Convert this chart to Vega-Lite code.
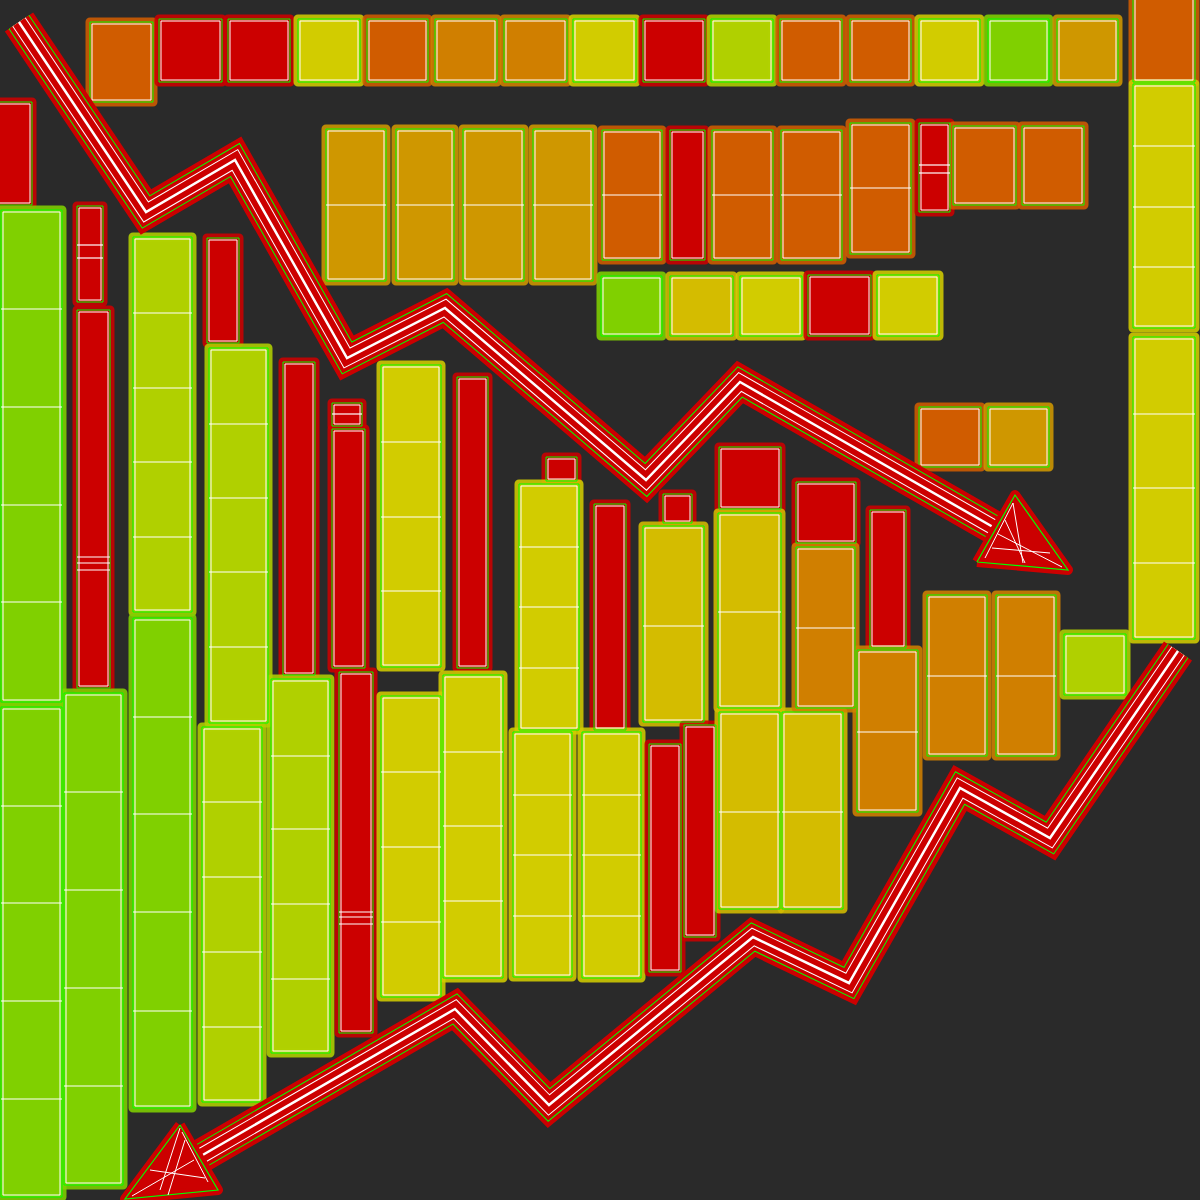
{
  "$schema": "https://vega.github.io/schema/vega-lite/v6.json",
  "width": 1200,
  "height": 1200,
  "padding": 0,
  "autosize": {"type": "none"},
  "background": "#2a2a2a",
  "config": {"view": {"stroke": null}},
  "datasets": {
    "blocks": [
      {"x1": 90, "x2": 153, "y1": 22, "y2": 102, "t": "orange"},
      {"x1": 159, "x2": 222, "y1": 19, "y2": 82, "t": "red"},
      {"x1": 228, "x2": 290, "y1": 19, "y2": 82, "t": "red"},
      {"x1": 298, "x2": 360, "y1": 19, "y2": 82, "t": "yellow"},
      {"x1": 367, "x2": 428, "y1": 19, "y2": 82, "t": "orange"},
      {"x1": 435, "x2": 497, "y1": 19, "y2": 82, "t": "amber"},
      {"x1": 504, "x2": 567, "y1": 19, "y2": 82, "t": "amber"},
      {"x1": 573, "x2": 636, "y1": 19, "y2": 82, "t": "yellow"},
      {"x1": 643, "x2": 705, "y1": 19, "y2": 82, "t": "red"},
      {"x1": 711, "x2": 773, "y1": 19, "y2": 82, "t": "ygreen"},
      {"x1": 780, "x2": 842, "y1": 19, "y2": 82, "t": "orange"},
      {"x1": 850, "x2": 911, "y1": 19, "y2": 82, "t": "orange"},
      {"x1": 919, "x2": 980, "y1": 19, "y2": 82, "t": "yellow"},
      {"x1": 988, "x2": 1049, "y1": 19, "y2": 82, "t": "green"},
      {"x1": 1057, "x2": 1118, "y1": 19, "y2": 82, "t": "gold"},
      {"x1": 1133, "x2": 1195, "y1": -6, "y2": 82, "t": "orange"},
      {"x1": 1133, "x2": 1195, "y1": 84, "y2": 328, "t": "yellow"},
      {"x1": 1133, "x2": 1195, "y1": 337, "y2": 639, "t": "yellow"},
      {"x1": 326, "x2": 386, "y1": 129, "y2": 281, "t": "gold"},
      {"x1": 396, "x2": 454, "y1": 129, "y2": 281, "t": "gold"},
      {"x1": 463, "x2": 524, "y1": 129, "y2": 281, "t": "gold"},
      {"x1": 533, "x2": 593, "y1": 129, "y2": 281, "t": "gold"},
      {"x1": 602, "x2": 662, "y1": 130, "y2": 260, "t": "orange"},
      {"x1": 670, "x2": 705, "y1": 130, "y2": 260, "t": "red"},
      {"x1": 712, "x2": 773, "y1": 130, "y2": 260, "t": "orange"},
      {"x1": 781, "x2": 842, "y1": 130, "y2": 260, "t": "orange"},
      {"x1": 850, "x2": 911, "y1": 123, "y2": 254, "t": "orange"},
      {"x1": 919, "x2": 950, "y1": 123, "y2": 212, "t": "red"},
      {"x1": 953, "x2": 1016, "y1": 126, "y2": 205, "t": "orange"},
      {"x1": 1022, "x2": 1084, "y1": 126, "y2": 205, "t": "orange"},
      {"x1": 601, "x2": 662, "y1": 276, "y2": 336, "t": "green"},
      {"x1": 670, "x2": 733, "y1": 276, "y2": 336, "t": "goldyellow"},
      {"x1": 740, "x2": 802, "y1": 276, "y2": 336, "t": "yellow"},
      {"x1": 808, "x2": 871, "y1": 275, "y2": 336, "t": "red"},
      {"x1": 877, "x2": 939, "y1": 275, "y2": 336, "t": "yellow"},
      {"x1": 919, "x2": 981, "y1": 407, "y2": 467, "t": "orange"},
      {"x1": 988, "x2": 1049, "y1": 407, "y2": 467, "t": "gold"},
      {"x1": -4, "x2": 32, "y1": 102, "y2": 205, "t": "red"},
      {"x1": 1, "x2": 62, "y1": 210, "y2": 702, "t": "green"},
      {"x1": 1, "x2": 62, "y1": 707, "y2": 1197, "t": "green"},
      {"x1": 77, "x2": 103, "y1": 206, "y2": 302, "t": "red"},
      {"x1": 77, "x2": 110, "y1": 310, "y2": 688, "t": "red"},
      {"x1": 64, "x2": 123, "y1": 693, "y2": 1185, "t": "green"},
      {"x1": 133, "x2": 192, "y1": 237, "y2": 612, "t": "ygreen"},
      {"x1": 133, "x2": 192, "y1": 618, "y2": 1108, "t": "green"},
      {"x1": 207, "x2": 239, "y1": 238, "y2": 343, "t": "red"},
      {"x1": 209, "x2": 268, "y1": 348, "y2": 723, "t": "ygreen"},
      {"x1": 202, "x2": 262, "y1": 727, "y2": 1102, "t": "ygreen"},
      {"x1": 283, "x2": 315, "y1": 362, "y2": 675, "t": "red"},
      {"x1": 271, "x2": 330, "y1": 679, "y2": 1053, "t": "ygreen"},
      {"x1": 332, "x2": 362, "y1": 403, "y2": 426, "t": "red"},
      {"x1": 332, "x2": 365, "y1": 429, "y2": 668, "t": "red"},
      {"x1": 339, "x2": 373, "y1": 672, "y2": 1033, "t": "red"},
      {"x1": 381, "x2": 441, "y1": 365, "y2": 667, "t": "yellow"},
      {"x1": 381, "x2": 441, "y1": 696, "y2": 997, "t": "yellow"},
      {"x1": 457, "x2": 488, "y1": 377, "y2": 668, "t": "red"},
      {"x1": 443, "x2": 503, "y1": 675, "y2": 978, "t": "yellow"},
      {"x1": 546, "x2": 577, "y1": 457, "y2": 481, "t": "red"},
      {"x1": 519, "x2": 579, "y1": 484, "y2": 730, "t": "yellow"},
      {"x1": 513, "x2": 572, "y1": 732, "y2": 977, "t": "yellow"},
      {"x1": 594, "x2": 626, "y1": 504, "y2": 730, "t": "red"},
      {"x1": 582, "x2": 641, "y1": 732, "y2": 978, "t": "yellow"},
      {"x1": 663, "x2": 692, "y1": 494, "y2": 523, "t": "red"},
      {"x1": 643, "x2": 704, "y1": 526, "y2": 722, "t": "goldyellow"},
      {"x1": 649, "x2": 681, "y1": 744, "y2": 972, "t": "red"},
      {"x1": 684, "x2": 716, "y1": 725, "y2": 937, "t": "red"},
      {"x1": 719, "x2": 781, "y1": 447, "y2": 509, "t": "red"},
      {"x1": 718, "x2": 781, "y1": 513, "y2": 708, "t": "goldyellow"},
      {"x1": 719, "x2": 780, "y1": 712, "y2": 909, "t": "goldyellow"},
      {"x1": 782, "x2": 843, "y1": 712, "y2": 909, "t": "goldyellow"},
      {"x1": 796, "x2": 856, "y1": 482, "y2": 543, "t": "red"},
      {"x1": 796, "x2": 855, "y1": 547, "y2": 708, "t": "amber"},
      {"x1": 870, "x2": 906, "y1": 510, "y2": 648, "t": "red"},
      {"x1": 857, "x2": 918, "y1": 650, "y2": 812, "t": "amber"},
      {"x1": 927, "x2": 987, "y1": 595, "y2": 756, "t": "amber"},
      {"x1": 996, "x2": 1056, "y1": 595, "y2": 756, "t": "amber"},
      {"x1": 1064, "x2": 1126, "y1": 634, "y2": 695, "t": "ygreen"}
    ],
    "dividers": [
      {"x1": 1133, "x2": 1195, "y": 146}, {"x1": 1133, "x2": 1195, "y": 207}, {"x1": 1133, "x2": 1195, "y": 267},
      {"x1": 1133, "x2": 1195, "y": 414}, {"x1": 1133, "x2": 1195, "y": 488}, {"x1": 1133, "x2": 1195, "y": 563},
      {"x1": 326, "x2": 386, "y": 205}, {"x1": 396, "x2": 454, "y": 205}, {"x1": 463, "x2": 524, "y": 205}, {"x1": 533, "x2": 593, "y": 205},
      {"x1": 602, "x2": 662, "y": 195}, {"x1": 712, "x2": 773, "y": 195}, {"x1": 781, "x2": 842, "y": 195}, {"x1": 850, "x2": 911, "y": 188},
      {"x1": 919, "x2": 950, "y": 165}, {"x1": 919, "x2": 950, "y": 173},
      {"x1": 1, "x2": 62, "y": 309}, {"x1": 1, "x2": 62, "y": 407}, {"x1": 1, "x2": 62, "y": 505}, {"x1": 1, "x2": 62, "y": 602},
      {"x1": 1, "x2": 62, "y": 806}, {"x1": 1, "x2": 62, "y": 903}, {"x1": 1, "x2": 62, "y": 1001}, {"x1": 1, "x2": 62, "y": 1099},
      {"x1": 77, "x2": 103, "y": 245}, {"x1": 77, "x2": 103, "y": 258},
      {"x1": 77, "x2": 110, "y": 557}, {"x1": 77, "x2": 110, "y": 563}, {"x1": 77, "x2": 110, "y": 570},
      {"x1": 64, "x2": 123, "y": 792}, {"x1": 64, "x2": 123, "y": 890}, {"x1": 64, "x2": 123, "y": 988}, {"x1": 64, "x2": 123, "y": 1086},
      {"x1": 133, "x2": 192, "y": 313}, {"x1": 133, "x2": 192, "y": 388}, {"x1": 133, "x2": 192, "y": 462}, {"x1": 133, "x2": 192, "y": 537},
      {"x1": 133, "x2": 192, "y": 717}, {"x1": 133, "x2": 192, "y": 814}, {"x1": 133, "x2": 192, "y": 912}, {"x1": 133, "x2": 192, "y": 1011},
      {"x1": 209, "x2": 268, "y": 424}, {"x1": 209, "x2": 268, "y": 498}, {"x1": 209, "x2": 268, "y": 572}, {"x1": 209, "x2": 268, "y": 647},
      {"x1": 202, "x2": 262, "y": 802}, {"x1": 202, "x2": 262, "y": 877}, {"x1": 202, "x2": 262, "y": 952}, {"x1": 202, "x2": 262, "y": 1027},
      {"x1": 271, "x2": 330, "y": 756}, {"x1": 271, "x2": 330, "y": 829}, {"x1": 271, "x2": 330, "y": 904}, {"x1": 271, "x2": 330, "y": 979},
      {"x1": 332, "x2": 362, "y": 414},
      {"x1": 339, "x2": 373, "y": 912}, {"x1": 339, "x2": 373, "y": 917}, {"x1": 339, "x2": 373, "y": 924},
      {"x1": 381, "x2": 441, "y": 442}, {"x1": 381, "x2": 441, "y": 517}, {"x1": 381, "x2": 441, "y": 591},
      {"x1": 381, "x2": 441, "y": 772}, {"x1": 381, "x2": 441, "y": 847}, {"x1": 381, "x2": 441, "y": 922},
      {"x1": 443, "x2": 503, "y": 752}, {"x1": 443, "x2": 503, "y": 826}, {"x1": 443, "x2": 503, "y": 901},
      {"x1": 519, "x2": 579, "y": 547}, {"x1": 519, "x2": 579, "y": 607}, {"x1": 519, "x2": 579, "y": 668},
      {"x1": 513, "x2": 572, "y": 795}, {"x1": 513, "x2": 572, "y": 855}, {"x1": 513, "x2": 572, "y": 916},
      {"x1": 582, "x2": 641, "y": 795}, {"x1": 582, "x2": 641, "y": 855}, {"x1": 582, "x2": 641, "y": 916},
      {"x1": 643, "x2": 704, "y": 626}, {"x1": 718, "x2": 781, "y": 612}, {"x1": 719, "x2": 780, "y": 812}, {"x1": 782, "x2": 843, "y": 812},
      {"x1": 796, "x2": 855, "y": 628}, {"x1": 857, "x2": 918, "y": 732}, {"x1": 927, "x2": 987, "y": 676}, {"x1": 996, "x2": 1056, "y": 676}
    ],
    "arrows": [
      {"a": "down", "o": 0, "x": 19, "y": 22},
      {"a": "down", "o": 1, "x": 146, "y": 212},
      {"a": "down", "o": 2, "x": 235, "y": 160},
      {"a": "down", "o": 3, "x": 347, "y": 358},
      {"a": "down", "o": 4, "x": 445, "y": 308},
      {"a": "down", "o": 5, "x": 646, "y": 480},
      {"a": "down", "o": 6, "x": 740, "y": 382},
      {"a": "down", "o": 7, "x": 1000, "y": 531},
      {"a": "up", "o": 0, "x": 1178, "y": 651},
      {"a": "up", "o": 1, "x": 1050, "y": 838},
      {"a": "up", "o": 2, "x": 960, "y": 788},
      {"a": "up", "o": 3, "x": 849, "y": 983},
      {"a": "up", "o": 4, "x": 753, "y": 937},
      {"a": "up", "o": 5, "x": 549, "y": 1105},
      {"a": "up", "o": 6, "x": 455, "y": 1009},
      {"a": "up", "o": 7, "x": 194, "y": 1160}
    ],
    "heads": [
      {"a": "down", "o": 0, "x": 977, "y": 562},
      {"a": "down", "o": 1, "x": 1015, "y": 495},
      {"a": "down", "o": 2, "x": 1068, "y": 570},
      {"a": "down", "o": 3, "x": 977, "y": 562},
      {"a": "up", "o": 0, "x": 180, "y": 1125},
      {"a": "up", "o": 1, "x": 218, "y": 1190},
      {"a": "up", "o": 2, "x": 125, "y": 1199},
      {"a": "up", "o": 3, "x": 180, "y": 1125}
    ],
    "headlines": [
      {"x1": 998, "y1": 534, "x2": 1062, "y2": 567},
      {"x1": 985, "y1": 558, "x2": 1013, "y2": 503},
      {"x1": 992, "y1": 548, "x2": 1050, "y2": 553},
      {"x1": 1005, "y1": 520, "x2": 1025, "y2": 563},
      {"x1": 1013, "y1": 503, "x2": 1023, "y2": 563},
      {"x1": 194, "y1": 1160, "x2": 132, "y2": 1196},
      {"x1": 182, "y1": 1132, "x2": 208, "y2": 1182},
      {"x1": 150, "y1": 1170, "x2": 205, "y2": 1178},
      {"x1": 160, "y1": 1190, "x2": 180, "y2": 1128},
      {"x1": 168, "y1": 1195, "x2": 185, "y2": 1140}
    ]
  },
  "layer": [
    {
      "data": {"name": "blocks"},
      "mark": {"type": "rect", "strokeWidth": 9, "strokeJoin": "round", "strokeOpacity": 0.88},
      "encoding": {
        "x": {"field": "x1", "type": "quantitative", "scale": {"domain": [0, 1200], "nice": false, "zero": false}, "axis": null},
        "x2": {"field": "x2"},
        "y": {"field": "y1", "type": "quantitative", "scale": {"domain": [0, 1200], "nice": false, "zero": false, "reverse": true}, "axis": null},
        "y2": {"field": "y2"},
        "fill": {"field": "t", "type": "nominal", "legend": null, "scale": {"domain": ["red", "orange", "amber", "gold", "goldyellow", "yellow", "ygreen", "green"], "range": ["#cc0000", "#d05c00", "#d07f00", "#cf9700", "#d4bc00", "#d2cc00", "#b0d000", "#80d000"]}},
        "stroke": {"field": "t", "type": "nominal", "legend": null, "scale": {"domain": ["red", "orange", "amber", "gold", "goldyellow", "yellow", "ygreen", "green"], "range": ["#cc0000", "#d05c00", "#d07f00", "#cf9700", "#d4bc00", "#d2cc00", "#b0d000", "#80d000"]}}
      }
    },
    {
      "data": {"name": "blocks"},
      "mark": {"type": "rect", "filled": false, "stroke": "#00ff00", "strokeWidth": 1},
      "encoding": {
        "x": {"field": "x1", "type": "quantitative"},
        "x2": {"field": "x2"},
        "y": {"field": "y1", "type": "quantitative"},
        "y2": {"field": "y2"}
      }
    },
    {
      "data": {"name": "blocks"},
      "mark": {"type": "rect", "filled": false, "stroke": "#ffffff", "strokeWidth": 1, "xOffset": 2, "x2Offset": -2, "yOffset": 2, "y2Offset": -2},
      "encoding": {
        "x": {"field": "x1", "type": "quantitative"},
        "x2": {"field": "x2"},
        "y": {"field": "y1", "type": "quantitative"},
        "y2": {"field": "y2"}
      }
    },
    {
      "data": {"name": "dividers"},
      "mark": {"type": "rule", "stroke": "#ffffff", "strokeWidth": 1.2},
      "encoding": {
        "x": {"field": "x1", "type": "quantitative"},
        "x2": {"field": "x2"},
        "y": {"field": "y", "type": "quantitative"}
      }
    },
    {
      "data": {"name": "arrows"},
      "mark": {"type": "line", "stroke": "#cc0000", "strokeWidth": 34, "strokeJoin": "miter", "strokeCap": "butt"},
      "encoding": {
        "x": {"field": "x", "type": "quantitative"},
        "y": {"field": "y", "type": "quantitative"},
        "detail": {"field": "a"},
        "order": {"field": "o"}
      }
    },
    {
      "data": {"name": "arrows"},
      "mark": {"type": "line", "stroke": "#00ff00", "strokeWidth": 25, "strokeJoin": "miter", "strokeCap": "butt"},
      "encoding": {
        "x": {"field": "x", "type": "quantitative"},
        "y": {"field": "y", "type": "quantitative"},
        "detail": {"field": "a"},
        "order": {"field": "o"}
      }
    },
    {
      "data": {"name": "arrows"},
      "mark": {"type": "line", "stroke": "#cc0000", "strokeWidth": 23, "strokeJoin": "miter", "strokeCap": "butt"},
      "encoding": {
        "x": {"field": "x", "type": "quantitative"},
        "y": {"field": "y", "type": "quantitative"},
        "detail": {"field": "a"},
        "order": {"field": "o"}
      }
    },
    {
      "data": {"name": "arrows"},
      "mark": {"type": "line", "stroke": "#ffffff", "strokeWidth": 16, "strokeJoin": "miter", "strokeCap": "butt"},
      "encoding": {
        "x": {"field": "x", "type": "quantitative"},
        "y": {"field": "y", "type": "quantitative"},
        "detail": {"field": "a"},
        "order": {"field": "o"}
      }
    },
    {
      "data": {"name": "arrows"},
      "mark": {"type": "line", "stroke": "#cc0000", "strokeWidth": 14, "strokeJoin": "miter", "strokeCap": "butt"},
      "encoding": {
        "x": {"field": "x", "type": "quantitative"},
        "y": {"field": "y", "type": "quantitative"},
        "detail": {"field": "a"},
        "order": {"field": "o"}
      }
    },
    {
      "data": {"name": "arrows"},
      "mark": {"type": "line", "stroke": "#ffffff", "strokeWidth": 2.5, "strokeJoin": "miter", "strokeCap": "butt"},
      "encoding": {
        "x": {"field": "x", "type": "quantitative"},
        "y": {"field": "y", "type": "quantitative"},
        "detail": {"field": "a"},
        "order": {"field": "o"}
      }
    },
    {
      "data": {"name": "heads"},
      "mark": {"type": "line", "fill": "#cc0000", "stroke": "#cc0000", "strokeWidth": 10, "strokeJoin": "round"},
      "encoding": {
        "x": {"field": "x", "type": "quantitative"},
        "y": {"field": "y", "type": "quantitative"},
        "detail": {"field": "a"},
        "order": {"field": "o"}
      }
    },
    {
      "data": {"name": "heads"},
      "mark": {"type": "line", "stroke": "#00ff00", "strokeWidth": 1.2, "strokeJoin": "miter"},
      "encoding": {
        "x": {"field": "x", "type": "quantitative"},
        "y": {"field": "y", "type": "quantitative"},
        "detail": {"field": "a"},
        "order": {"field": "o"}
      }
    },
    {
      "data": {"name": "headlines"},
      "mark": {"type": "rule", "stroke": "#ffffff", "strokeWidth": 1},
      "encoding": {
        "x": {"field": "x1", "type": "quantitative"},
        "y": {"field": "y1", "type": "quantitative"},
        "x2": {"field": "x2"},
        "y2": {"field": "y2"}
      }
    }
  ]
}
